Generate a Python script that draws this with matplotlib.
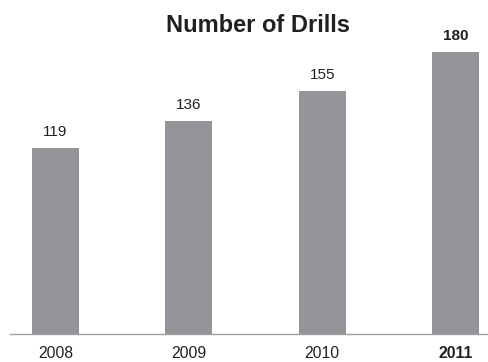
import matplotlib
matplotlib.use("Agg")
import matplotlib.pyplot as plt

years = ["2008", "2009", "2010", "2011"]
drills = [119, 136, 155, 180]
bold_flags = [False, False, False, True]

plt.rcParams['font.family'] = ['Liberation Sans', 'DejaVu Sans']

W, H = 489, 362
fig = plt.figure(figsize=(W / 100, H / 100), dpi=100)
ax = fig.add_axes([10 / W, (H - 334) / H, 479 / W, 324 / H])

bar_color = "#939598"
text_color = "#231f20"

x = list(range(len(years)))
ax.bar(x, drills, width=0.35, color=bar_color, zorder=2)
ax.set_xlim(-0.341, 3.251)
ax.set_ylim(0, 324 / 1.565)

for xi, v, b in zip(x, drills, bold_flags):
    ax.annotate(str(v), (xi, v), xytext=(0, 6.5), textcoords="offset points",
                ha="center", va="bottom", fontsize=11, color=text_color,
                fontweight="bold" if b else "normal")

ax.set_xticks(x)
ax.set_xticklabels(years, fontsize=11.3, color=text_color)
for lbl, b in zip(ax.get_xticklabels(), bold_flags):
    if b:
        lbl.set_fontweight("bold")
ax.tick_params(axis="x", length=0, pad=9.0)
ax.set_yticks([])
for s in ["top", "right", "left"]:
    ax.spines[s].set_visible(False)
ax.spines["bottom"].set_color("#a0a0a0")
ax.spines["bottom"].set_linewidth(1.0)

fig.text(258 / W, (H - 32) / H, "Number of Drills", ha="center", va="baseline",
         fontsize=17, fontweight="bold", color=text_color)

fig.savefig("out.png", dpi=100)
